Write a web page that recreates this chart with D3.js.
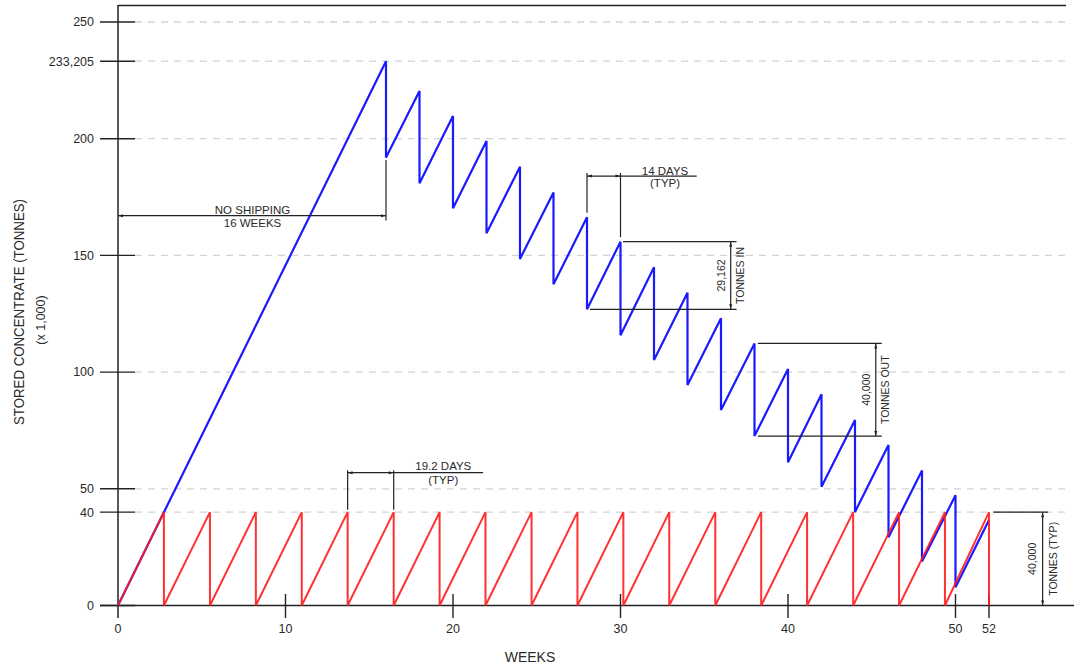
<!DOCTYPE html>
<html>
<head>
<meta charset="utf-8">
<script src="https://cdn.jsdelivr.net/npm/d3@7"></script>
<style>
  html, body { margin: 0; padding: 0; background: #fff; }
  svg { display: block; }
  text { font-family: "Liberation Sans", Arial, sans-serif; fill: #2a2a2a; }
  .narrow { font-family: "Liberation Sans Narrow", "Liberation Sans", Arial, sans-serif; }
</style>
</head>
<body>
<svg id="chart" width="1074" height="665"></svg>
<script>
// ---------------- DATA ----------------
const weekTicks = [0, 10, 20, 30, 40, 50, 52];
const valueTicks = [0, 40, 50, 100, 150, 200, 233.205, 250];
const valueTickLabels = ["0", "40", "50", "100", "150", "200", "233,205", "250"];

// Red series: truck/storage sawtooth (peak then drop to 0), 19.2 day cycle
const redPeakWeeks  = [2.74, 5.49, 8.23, 10.97, 13.71, 16.46, 19.2, 21.94, 24.69, 27.43,
                       30.17, 32.91, 35.66, 38.4, 41.14, 43.89, 46.63, 49.37, 52];
const redPeakValues = [40, 40, 40, 40, 40, 40, 40, 40, 40, 40,
                       40, 40, 40, 40, 40, 40, 40, 40, 40];

// Blue series: stored concentrate, shipping every 14 days after week 16
const bluePeakWeeks   = [16, 18, 20, 22, 24, 26, 28, 30, 32, 34, 36, 38, 40, 42, 44, 46, 48, 50];
const bluePeakValues  = [233.205, 220.4, 209.7, 199.0, 188.0, 177.0, 166.3, 155.9, 144.9,
                         134.0, 123.1, 112.3, 101.3, 90.5, 79.5, 68.8, 57.8, 47.2];
const blueTroughValues = [191.9, 180.9, 170.2, 159.5, 148.5, 137.6, 126.9, 115.8, 105.2,
                          94.5, 83.8, 72.6, 61.4, 50.9, 40.1, 29.2, 18.8, 7.8];
const blueEndWeek = 52;
const blueEndValue = 36.6;

// ---------------- SETUP ----------------
const svg = d3.select("#chart");
const x = d3.scaleLinear().domain([0, 52]).range([118, 989]);
const y = d3.scaleLinear().domain([0, 250]).range([605.5, 22]);
const ink = "#222";

const defs = svg.append("defs");
function marker(id, path) {
  defs.append("marker").attr("id", id)
    .attr("viewBox", "0 0 10 10").attr("refX", 10).attr("refY", 5)
    .attr("markerWidth", 7).attr("markerHeight", 5).attr("orient", "auto-start-reverse")
    .attr("markerUnits", "userSpaceOnUse")
    .append("path").attr("d", path).attr("fill", ink);
}
marker("arr", "M0,2 L10,5 L0,8 Z");

// gridlines (dashed)
svg.append("g").selectAll("line")
  .data(valueTicks.filter(v => v > 0))
  .join("line")
  .attr("x1", 135).attr("x2", 1066)
  .attr("y1", d => y(d)).attr("y2", d => y(d))
  .attr("stroke", "#d4d4d4").attr("stroke-width", 1.3)
  .attr("stroke-dasharray", "7,6");

// frame / axes lines
svg.append("line").attr("x1", x(0)).attr("x2", 1066).attr("y1", 5.5).attr("y2", 5.5)
  .attr("stroke", ink).attr("stroke-width", 1.4);
svg.append("line").attr("x1", x(0)).attr("x2", x(0)).attr("y1", 5).attr("y2", 618)
  .attr("stroke", ink).attr("stroke-width", 1.5);
svg.append("line").attr("x1", 100).attr("x2", 1074).attr("y1", y(0)).attr("y2", y(0))
  .attr("stroke", ink).attr("stroke-width", 1.5);

// y ticks & labels
const yT = svg.append("g");
yT.selectAll("line").data(valueTicks).join("line")
  .attr("x1", 100).attr("x2", 135)
  .attr("y1", d => y(d)).attr("y2", d => y(d))
  .attr("stroke", ink).attr("stroke-width", 1.4);
yT.selectAll("text").data(valueTicks).join("text")
  .attr("x", 94).attr("y", d => y(d)).attr("dy", "0.35em")
  .attr("text-anchor", "end").attr("font-size", 12.5)
  .text((d, i) => valueTickLabels[i]);

// x ticks & labels
const xT = svg.append("g");
xT.selectAll("line").data(weekTicks.filter(d => d > 0)).join("line")
  .attr("x1", d => x(d)).attr("x2", d => x(d))
  .attr("y1", 594).attr("y2", 618)
  .attr("stroke", ink).attr("stroke-width", 1.4);
xT.selectAll("text").data(weekTicks).join("text")
  .attr("x", d => x(d)).attr("y", 629).attr("dy", "0.35em")
  .attr("text-anchor", "middle").attr("font-size", 12.5)
  .text(d => d);

// axis titles
svg.append("text").attr("x", 530).attr("y", 657).attr("dy", "0.35em")
  .attr("text-anchor", "middle").attr("font-size", 14).text("WEEKS");
svg.append("text")
  .attr("transform", "translate(19,312) rotate(-90)")
  .attr("text-anchor", "middle").attr("dy", "0.35em").attr("font-size", 14)
  .attr("textLength", 226).attr("lengthAdjust", "spacingAndGlyphs")
  .text("STORED CONCENTRATE (TONNES)");
svg.append("text")
  .attr("transform", "translate(41,320) rotate(-90)")
  .attr("text-anchor", "middle").attr("dy", "0.35em").attr("font-size", 12.5)
  .text("(x 1,000)");

// ---------------- SERIES ----------------
const line = d3.line().x(d => x(d[0])).y(d => y(d[1]));

const bluePts = [[0, 0]];
bluePeakWeeks.forEach((w, i) => {
  bluePts.push([w, bluePeakValues[i]]);
  bluePts.push([w, blueTroughValues[i]]);
});
bluePts.push([blueEndWeek, blueEndValue]);

const redPts = [[0, 0]];
redPeakWeeks.forEach((w, i) => {
  redPts.push([w, redPeakValues[i]]);
  redPts.push([w, 0]);
});

svg.append("path").datum(bluePts).attr("d", line)
  .attr("fill", "none").attr("stroke", "#1a1aff").attr("stroke-width", 2.2)
  .attr("stroke-linejoin", "miter");
svg.append("path").datum(redPts).attr("d", line)
  .attr("fill", "none").attr("stroke", "#ff1c1c").attr("stroke-width", 2)
  .attr("stroke-opacity", 0.9).attr("stroke-linejoin", "miter");

// ---------------- ANNOTATIONS ----------------
const ann = svg.append("g").attr("stroke", ink).attr("stroke-width", 1.2);
function seg(x1, y1, x2, y2, arrows) {
  const l = ann.append("line").attr("x1", x1).attr("y1", y1).attr("x2", x2).attr("y2", y2);
  if (arrows) { l.attr("marker-start", "url(#arr)").attr("marker-end", "url(#arr)"); }
  return l;
}
function label(px, py, txt, size, rotate, cls) {
  const t = svg.append("text").attr("text-anchor", "middle").attr("dy", "0.35em")
    .attr("font-size", size).text(txt);
  if (cls) t.attr("class", cls);
  if (rotate) t.attr("transform", `translate(${px},${py}) rotate(-90)`);
  else t.attr("x", px).attr("y", py);
  return t;
}

// 1. No shipping 16 weeks
seg(x(0), y(167), x(16), y(167), true);
seg(x(16), y(190.9), x(16), y(165));
label(x(8.03), 210, "NO SHIPPING", 11.5);
label(x(8.03), 222.5, "16 WEEKS", 11.5);

// 2. 14 days (typ)
seg(x(28), y(185.3), x(28), y(168.3));
seg(x(30), y(185.3), x(30), y(157.8));
seg(x(28), y(184), x(30), y(184), true);
seg(x(30), y(184), x(34.55), y(184));
label(x(32.66), 170.5, "14 DAYS", 11.5);
label(x(32.66), 182.5, "(TYP)", 11.5);

// 3. 29,162 tonnes in
seg(x(30.15), y(bluePeakValues[7]), x(36.93), y(bluePeakValues[7]));
seg(x(28.18), y(blueTroughValues[6]), x(36.93), y(blueTroughValues[6]));
seg(x(36.58), y(bluePeakValues[7]), x(36.58), y(blueTroughValues[6]), true);
label(x(36.04), y((bluePeakValues[7] + blueTroughValues[6]) / 2), "29,162", 10.5, true, "narrow");
label(x(37.13), y((bluePeakValues[7] + blueTroughValues[6]) / 2), "TONNES IN", 10.5, true, "narrow");

// 4. 40,000 tonnes out
seg(x(38.2), y(bluePeakValues[11]), x(45.6), y(bluePeakValues[11]));
seg(x(38.2), y(blueTroughValues[11]), x(45.6), y(blueTroughValues[11]));
seg(x(45.24), y(bluePeakValues[11]), x(45.24), y(blueTroughValues[11]), true);
label(x(44.7), y((bluePeakValues[11] + blueTroughValues[11]) / 2), "40,000", 10.5, true, "narrow");
label(x(45.79), y((bluePeakValues[11] + blueTroughValues[11]) / 2), "TONNES OUT", 10.5, true, "narrow");

// 5. 19.2 days (typ)
seg(x(redPeakWeeks[4]), y(58), x(redPeakWeeks[4]), y(41));
seg(x(redPeakWeeks[5]), y(58), x(redPeakWeeks[5]), y(41));
seg(x(redPeakWeeks[4]), y(56.9), x(redPeakWeeks[5]), y(56.9), true);
seg(x(redPeakWeeks[5]), y(56.9), x(21.8), y(56.9));
label(x(19.42), 465.5, "19.2 DAYS", 11.5);
label(x(19.42), 479.5, "(TYP)", 11.5);

// 6. 40,000 tonnes (typ)
seg(x(52.26), y(40), x(55.52), y(40));
seg(x(55.2), y(40), x(55.2), y(0), true);
label(x(54.6), y(20), "40,000", 10.5, true, "narrow");
label(x(55.82), y(20), "TONNES (TYP)", 10.5, true, "narrow");
</script>
</body>
</html>
